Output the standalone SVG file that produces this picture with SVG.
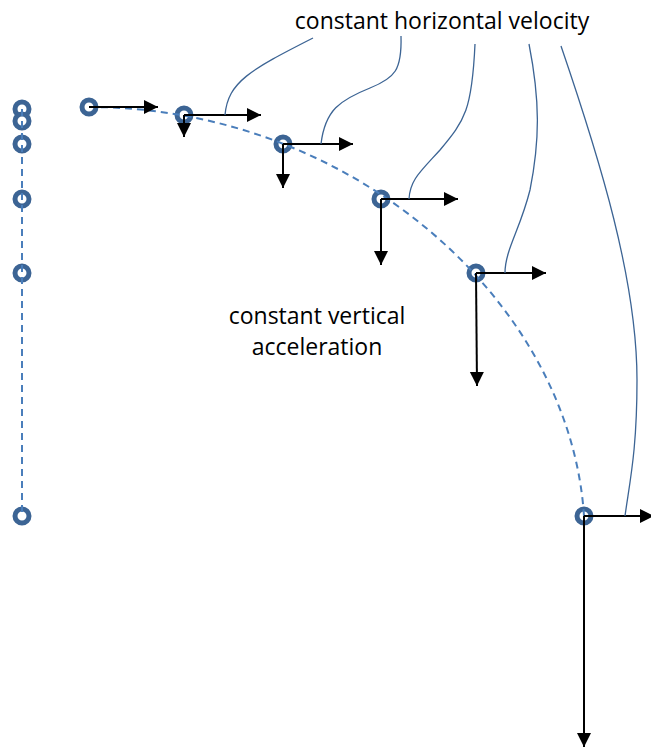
<svg xmlns="http://www.w3.org/2000/svg" width="651" height="748" viewBox="0 0 651 748">
<defs>
<marker id="ah" markerUnits="userSpaceOnUse" markerWidth="15" markerHeight="15" refX="14" refY="7" orient="auto" viewBox="0 0 15 15">
<path d="M0,0 L14,7 L0,14 z" fill="#000"/>
</marker>
</defs>
<style>
.pt{fill:#fff;stroke:#3c6494;stroke-width:5}
.dash{fill:none;stroke:#4a7ebb;stroke-width:2;stroke-dasharray:7 5}
.arr{stroke:#000;stroke-width:2;fill:none;marker-end:url(#ah)}
.call{fill:none;stroke:#3c6494;stroke-width:1.3}
.lbl{font-family:"Open Sans","Liberation Sans",sans-serif;font-size:23px;fill:#000;text-anchor:middle}
</style>
<rect width="651" height="748" fill="#fff"/>
<g id="fall-column">
<circle class="pt" cx="22" cy="109" r="7"/>
<circle class="pt" cx="22" cy="121" r="7"/>
<circle class="pt" cx="22" cy="144" r="7"/>
<circle class="pt" cx="22" cy="199" r="7"/>
<circle class="pt" cx="22" cy="273" r="7"/>
<circle class="pt" cx="22" cy="516" r="7"/>
</g>
<g id="trajectory-points">
<circle class="pt" cx="89" cy="107" r="7"/>
<circle class="pt" cx="184" cy="115" r="7"/>
<circle class="pt" cx="283" cy="144" r="7"/>
<circle class="pt" cx="381" cy="199" r="7"/>
<circle class="pt" cx="476" cy="273" r="7"/>
<circle class="pt" cx="584" cy="516" r="7"/>
</g>
<g id="connectors">
<line class="dash" x1="22" y1="109" x2="22" y2="516"/>
<path class="dash" d="M89,107 C350,107 570,300 584,516"/>
<line class="arr" x1="89" y1="107" x2="158" y2="107"/>
<line class="arr" x1="184" y1="115" x2="261" y2="115"/>
<line class="arr" x1="184" y1="115" x2="184" y2="137"/>
<line class="arr" x1="283" y1="144" x2="353" y2="144"/>
<line class="arr" x1="283" y1="144" x2="283" y2="188"/>
<line class="arr" x1="381" y1="199" x2="458" y2="199"/>
<line class="arr" x1="381" y1="199" x2="381" y2="265"/>
<line class="arr" x1="476" y1="273" x2="546" y2="273"/>
<line class="arr" x1="476" y1="273" x2="477" y2="386"/>
<line class="arr" x1="584" y1="516" x2="654" y2="516"/>
<line class="arr" x1="584" y1="516" x2="584" y2="747"/>
<path class="call" d="M313,38 C250,70 228,82 225,115"/>
<path class="call" d="M401,36 C402,70 395,78 370,88 C340,100 325,110 321,144"/>
<path class="call" d="M475,44 C472,110 465,120 440,150 C420,172 410,180 409,199"/>
<path class="call" d="M529,44 C540,100 540,140 530,190 C520,230 505,250 505,273"/>
<path class="call" d="M561,46 C600,160 637,280 637,380 C637,450 630,480 625,516"/>
</g>
<g id="label-horizontal">
<text class="lbl" x="442" y="29">constant horizontal velocity</text>
</g>
<g id="label-vertical">
<text class="lbl" x="317" y="324">constant vertical</text>
<text class="lbl" x="317" y="355">acceleration</text>
</g>
</svg>
